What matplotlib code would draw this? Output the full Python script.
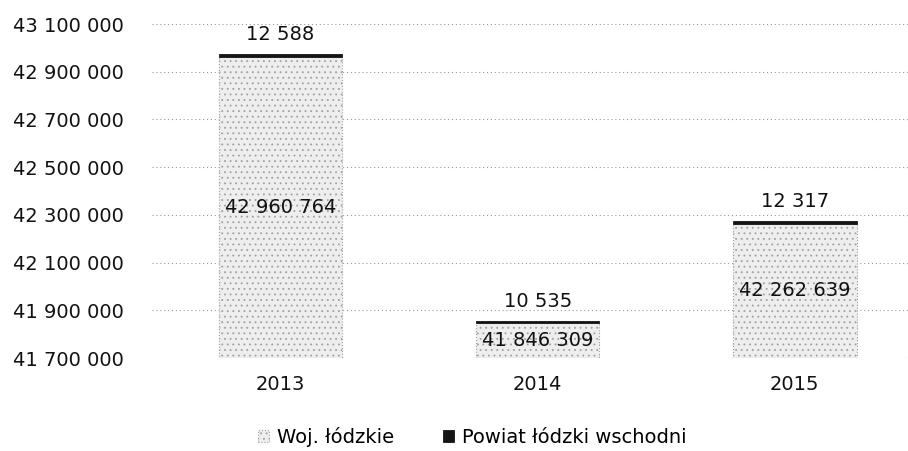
import matplotlib
matplotlib.use('Agg')
import matplotlib.pyplot as plt
import numpy as np

# data
years = ['2013', '2014', '2015']
woj = [42960764, 41846309, 42262639]
powiat = [12588, 10535, 12317]
yticks = [41700000, 41900000, 42100000, 42300000, 42500000, 42700000, 42900000, 43100000]

def fmt(v):
    return '{:,}'.format(v).replace(',', ' ')

plt.rcParams['font.family'] = ['DejaVu Sans']
plt.rcParams['hatch.linewidth'] = 0.6

fig = plt.figure(figsize=(9.08, 4.51), dpi=100)
ax = fig.add_axes([152/908, (451-358)/451, 1 - 152/908, (358-24)/451])

x = np.arange(len(years))
w = 0.48
ymin = yticks[0]

b1 = ax.bar(x, np.array(woj) - ymin, w, bottom=ymin, color='#eeeeee',
            edgecolor='#a0a0a0', hatch='...', linewidth=0.8, linestyle=':',
            label='Woj. łódzkie', zorder=2)
b2 = ax.bar(x, powiat, w, bottom=woj, color='#151515', edgecolor='#151515',
            linewidth=0.6, label='Powiat łódzki wschodni', zorder=3)

for i in range(len(years)):
    ax.text(x[i], (ymin + woj[i]) / 2, fmt(woj[i]), ha='center', va='center',
            fontsize=14, color='#111111', zorder=4)
    ax.annotate(fmt(powiat[i]), (x[i], woj[i] + powiat[i]), xytext=(0, 7),
                textcoords='offset points', ha='center', va='bottom',
                fontsize=14, color='#111111')

ax.set_ylim(yticks[0], yticks[-1])
ax.set_xlim(-0.5, 2.44)
ax.set_yticks(yticks)
ax.set_yticklabels([fmt(v) for v in yticks], fontsize=14, color='#111111')
ax.set_xticks(x)
ax.set_xticklabels(years, fontsize=14, color='#111111')
ax.tick_params(axis='y', length=0, pad=20)
ax.tick_params(axis='x', length=0, pad=12)
ax.yaxis.grid(True, linestyle=(0, (1, 2.5)), color='#999999', linewidth=0.8, zorder=0)
ax.set_axisbelow(True)
for s in ax.spines.values():
    s.set_visible(False)

fig.legend(handles=[b1, b2], loc='lower center', bbox_to_anchor=(0.52, -0.03),
           ncol=2, frameon=False, fontsize=14, handlelength=0.6, handleheight=0.6,
           columnspacing=2.5, handletextpad=0.4)

fig.savefig('out.png', dpi=100)
